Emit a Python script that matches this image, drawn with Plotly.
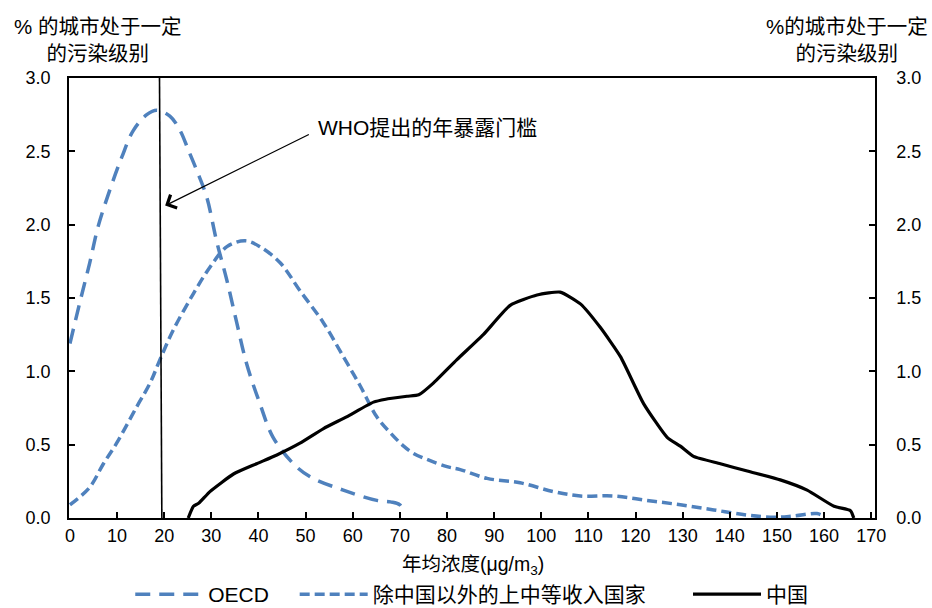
import plotly.graph_objects as go

# Distribution of cities by annual mean PM2.5 concentration
oecd_x = [0, 2.1, 4.2, 6.0, 8.5, 11, 13.4, 16.3, 18.4, 21.2, 23.4, 25.1, 26.9, 29.0,
          31.1, 33.3, 35.4, 37.5, 40.3, 43.1, 47.4, 51, 58, 65.1, 68, 70, 71]
oecd_y = [1.19, 1.47, 1.74, 1.99, 2.24, 2.46, 2.64, 2.75, 2.78, 2.74, 2.64, 2.51, 2.37, 2.19,
          1.89, 1.62, 1.33, 1.05, 0.78, 0.55, 0.37, 0.28, 0.19, 0.12, 0.11, 0.09, 0.03]

umic_x = [0, 4.2, 7.1, 9.9, 14.2, 17, 19.1, 21.9, 26.2, 29.7, 33.3, 37.2, 40.3, 44.6,
          48.8, 53.8, 58.0, 61.6, 65.1, 68, 70.8, 72.9, 75.7, 80, 82.8, 88.5, 95.5,
          102.6, 108.3, 115.3, 122.4, 129.5, 136.6, 143.7, 149.3, 153.6, 158.5, 160]
umic_y = [0.09, 0.21, 0.37, 0.51, 0.76, 0.92, 1.08, 1.28, 1.53, 1.71, 1.85, 1.89, 1.85, 1.74,
          1.55, 1.33, 1.10, 0.90, 0.69, 0.58, 0.49, 0.44, 0.40, 0.35, 0.33, 0.27, 0.24,
          0.18, 0.15, 0.15, 0.12, 0.09, 0.055, 0.02, 0.005, 0.014, 0.03, 0.01]

china_x = [25.1, 26.2, 27.3, 29.7, 34.7, 39.6, 43.9, 48.8, 53.8, 58.7, 64.4, 67, 71.5, 74,
           77.1, 82.1, 87.7, 93.4, 99.1, 104, 108.3, 112.5, 116.8, 121.7, 126.7, 129.5,
           132.3, 138, 143.7, 150.7, 156.4, 162.1, 165.6, 166.3]
china_y = [0, 0.08, 0.10, 0.18, 0.30, 0.37, 0.43, 0.51, 0.61, 0.69, 0.79, 0.81, 0.83, 0.84,
           0.92, 1.08, 1.25, 1.45, 1.52, 1.54, 1.46, 1.30, 1.10, 0.78, 0.55, 0.49,
           0.42, 0.37, 0.32, 0.26, 0.19, 0.08, 0.05, 0]

who_x = [19.0, 19.5]
who_y = [3.0, 0.0]

x_ticks = list(range(0, 171, 10))
y_ticks = [0.0, 0.5, 1.0, 1.5, 2.0, 2.5, 3.0]

names = ["OECD", "除中国以外的上中等收入国家", "中国"]
blue = "#4F81BD"
FONT = "Liberation Sans, Arial, Noto Sans CJK SC"

fig = go.Figure()
fig.add_trace(go.Scatter(x=oecd_x, y=oecd_y, name=names[0], mode="lines", legend="legend",
                         line=dict(color=blue, width=3.5, dash="15px,9px", shape="spline")))
fig.add_trace(go.Scatter(x=umic_x, y=umic_y, name=names[1], mode="lines", legend="legend2",
                         line=dict(color=blue, width=3.5, dash="10px,5px", shape="spline")))
fig.add_trace(go.Scatter(x=china_x, y=china_y, name=names[2], mode="lines", legend="legend3",
                         line=dict(color="black", width=3.2, shape="spline", smoothing=0.5)))
fig.add_trace(go.Scatter(x=who_x, y=who_y, mode="lines", showlegend=False,
                         line=dict(color="black", width=1.6), hoverinfo="skip"))
# invisible trace to drive the right-hand axis
fig.add_trace(go.Scatter(x=[0], y=[0], yaxis="y2", mode="lines", showlegend=False,
                         line=dict(width=0), hoverinfo="skip"))

axis_common = dict(ticks="inside", ticklen=6, tickwidth=1.5, tickcolor="black",
                   showline=True, linecolor="black", showgrid=False, zeroline=False)
legend_common = dict(orientation="h", y=-0.174, yanchor="middle", xanchor="left",
                     font=dict(size=21), itemwidth=68, bgcolor="rgba(0,0,0,0)")

fig.update_layout(
    width=932, height=608,
    margin=dict(l=69, r=57, t=78, b=90, autoexpand=False),
    paper_bgcolor="white", plot_bgcolor="white",
    font=dict(family=FONT, size=18, color="black"),
    xaxis=dict(range=[-0.2, 170.8], tickvals=x_ticks, linewidth=2, mirror=True,
               ticklabelstandoff=0, **axis_common),
    yaxis=dict(range=[0, 3], tickvals=y_ticks, tickformat=".1f", linewidth=1.5,
               ticklabelstandoff=13, **axis_common),
    yaxis2=dict(range=[0, 3], tickvals=y_ticks, tickformat=".1f", linewidth=1.5,
                overlaying="y", side="right", ticklabelstandoff=16, **axis_common),
    legend=dict(x=0.076, **legend_common),
    legend2=dict(x=0.280, **legend_common),
    legend3=dict(x=0.768, **legend_common),
    showlegend=True,
)

fig.add_annotation(x=20.2, y=2.13, ax=51, ay=2.62, axref="x", ayref="y",
                   text="", showarrow=True, arrowhead=4, arrowsize=2.2,
                   arrowwidth=1.3, arrowcolor="black")
fig.add_annotation(x=52.2, y=2.66, text="WHO提出的年暴露门槛", showarrow=False,
                   xanchor="left", yanchor="middle", font=dict(size=21))
fig.add_annotation(x=0.035, y=1.086, xref="paper", yref="paper",
                   text="% 的城市处于一定<br>的污染级别", showarrow=False,
                   xanchor="center", yanchor="middle", font=dict(size=20.5))
fig.add_annotation(x=0.965, y=1.086, xref="paper", yref="paper",
                   text="%的城市处于一定<br>的污染级别", showarrow=False,
                   xanchor="center", yanchor="middle", font=dict(size=20.5))
fig.add_annotation(x=0.501, y=-0.107, xref="paper", yref="paper",
                   text="年均浓度(μg/m<sub>3</sub>)", showarrow=False,
                   xanchor="center", yanchor="middle", font=dict(size=19.5))

fig.write_html("out.html")
